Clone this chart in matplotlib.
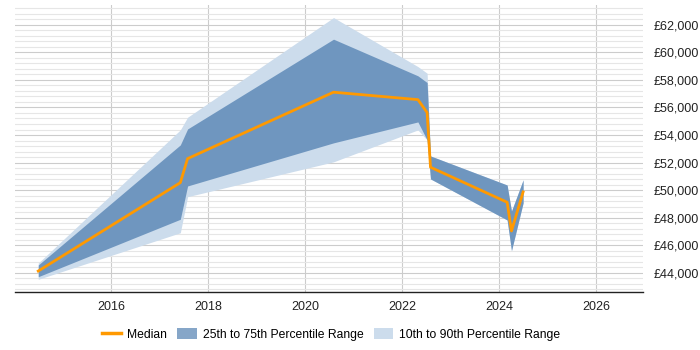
import matplotlib
matplotlib.use("Agg")
import matplotlib.pyplot as plt
from matplotlib.ticker import MultipleLocator, FuncFormatter
from matplotlib.lines import Line2D
from matplotlib.patches import Patch

plt.rcParams['font.family'] = ['Liberation Sans', 'DejaVu Sans']

years = [2014.50, 2017.43, 2017.58, 2020.59, 2022.33, 2022.52, 2022.59, 2024.17, 2024.26, 2024.50]
median = [44120, 50540, 52285, 57110, 56570, 55630, 51660, 49116, 47030, 49865]
p25 = [43710, 47880, 50300, 53430, 54950, 53640, 50810, 47830, 45600, 49070]
p75 = [44560, 53280, 54440, 60960, 58300, 57810, 52480, 50370, 48480, 50740]
p10 = [43520, 46900, 49520, 52050, 54370, 53640, 50810, 47830, 45600, 49070]
p90 = [44700, 54370, 55290, 62530, 58970, 58490, 52480, 50370, 48480, 50740]

xticks = [2016, 2018, 2020, 2022, 2024, 2026]

fig = plt.figure(figsize=(7, 3.5), dpi=100)
ax = fig.add_axes([0.0214, 0.165, 0.897, 0.821])

ax.fill_between(years, p10, p90, color='#ccdcec', linewidth=0, zorder=2)
ax.fill_between(years, p25, p75, color='#6f96bf', linewidth=0, zorder=3)
ax.plot(years, median, color='#ff9900', linewidth=2, zorder=4)

ax.set_xlim(2014.02, 2026.97)
ax.set_ylim(42580, 63450)
ax.set_xticks(xticks)
ax.set_xticklabels([str(x) for x in xticks])
ax.yaxis.set_major_locator(MultipleLocator(2000))
ax.yaxis.set_minor_locator(MultipleLocator(400))
ax.set_yticks(list(range(44000, 62001, 2000)))
ax.yaxis.set_major_formatter(FuncFormatter(lambda v, p: '£{:,.0f}'.format(v)))
ax.yaxis.tick_right()
ax.tick_params(axis='y', which='both', length=0, pad=8, labelsize=9, colors='#222222')
ax.tick_params(axis='x', length=0, pad=6, labelsize=9, colors='#222222')

ax.grid(axis='y', which='major', color='#cccccc', linewidth=0.8, zorder=0)
ax.grid(axis='y', which='minor', color='#e6e6e6', linewidth=0.8, zorder=0)
ax.grid(axis='x', which='major', color='#cccccc', linewidth=0.8, zorder=0)
ax.set_axisbelow(True)
for s in ['left', 'right', 'top']:
    ax.spines[s].set_visible(False)
ax.spines['bottom'].set_color('#222222')
ax.spines['bottom'].set_linewidth(1)

handles = [
    Line2D([0], [0], color='#ff9900', linewidth=2.5),
    Patch(facecolor='#86a6c8', edgecolor='none'),
    Patch(facecolor='#ccdcec', edgecolor='none'),
]
labels = ['Median', '25th to 75th Percentile Range', '10th to 90th Percentile Range']
fig.legend(handles, labels, loc='center', bbox_to_anchor=(0.473, 0.045), ncol=3,
           frameon=False, fontsize=8.7, handlelength=1.6, handleheight=1.1,
           columnspacing=0.85, handletextpad=0.5)

fig.savefig('out.png', dpi=100)
